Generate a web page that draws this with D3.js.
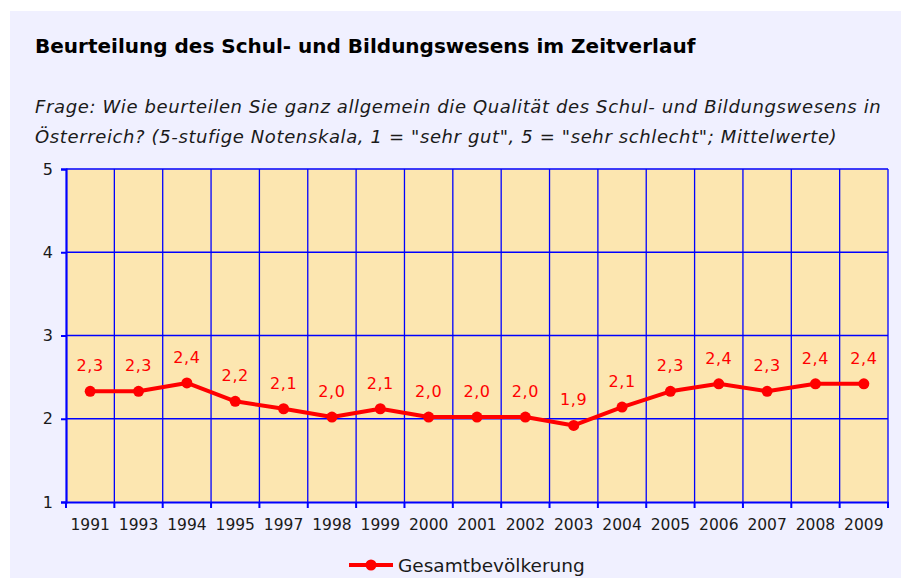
<!DOCTYPE html>
<html lang="de">
<head>
    <meta charset="UTF-8">
    <title>Beurteilung des Schul- und Bildungswesens</title>
    <style>
        body { margin: 0; background: #fff; }
        svg { display: block; font-family: "DejaVu Sans", sans-serif; }
        .title { font-size: 20px; font-weight: bold; fill: #000; }
        .sub { font-size: 18px; font-style: italic; fill: #1a1a1a; letter-spacing: 0.62px; }
        .axis path, .axis line { stroke: #0000ff; }
        .grid line { stroke: #0000ff; stroke-width: 1.3; }
        .lbl { font-size: 16px; fill: #ff0000; text-anchor: middle; letter-spacing: 0.6px; }
    </style>
</head>
<body>
<svg id="chart" width="901" height="578"></svg>
<script src="https://d3js.org/d3.v7.min.js"></script>
<script>
    const years = ["1991", "1993", "1994", "1995", "1997", "1998", "1999", "2000", "2001",
        "2002", "2003", "2004", "2005", "2006", "2007", "2008", "2009"];
    const gesamt = [2.33, 2.33, 2.43, 2.21, 2.12, 2.02, 2.12, 2.02, 2.02,
        2.02, 1.92, 2.14, 2.33, 2.42, 2.33, 2.42, 2.42];
    const yTicks = [1, 2, 3, 4, 5];
    const seriesName = "Gesamtbevölkerung";

    const margin = { top: 169, left: 66, right: 13, bottom: 76 };
    const W = 901, H = 578;
    const width = W - margin.left - margin.right,
        height = H - margin.top - margin.bottom;

    const svg = d3.select("#chart");

    // panel background
    svg.append("rect")
        .attr("x", 10).attr("y", 11)
        .attr("width", W - 10).attr("height", H - 11)
        .attr("fill", "#f0f0ff");

    svg.append("text").attr("class", "title")
        .attr("x", 35).attr("y", 53)
        .text("Beurteilung des Schul- und Bildungswesens im Zeitverlauf");

    svg.append("text").attr("class", "sub")
        .attr("x", 35).attr("y", 113)
        .text("Frage: Wie beurteilen Sie ganz allgemein die Qualität des Schul- und Bildungswesens in");
    svg.append("text").attr("class", "sub")
        .attr("x", 35).attr("y", 143)
        .text("Österreich? (5-stufige Notenskala, 1 = \"sehr gut\", 5 = \"sehr schlecht\"; Mittelwerte)");

    const x = d3.scaleBand().domain(years).range([0, width]);
    const y = d3.scaleLinear().domain([1, 5]).range([height, 0]);

    const g = svg.append("g")
        .attr("transform", `translate(${margin.left},${margin.top})`);

    g.append("rect")
        .attr("width", width).attr("height", height)
        .attr("fill", "#fce6b0");

    // gridlines
    const grid = g.append("g").attr("class", "grid");
    grid.selectAll(".hl")
        .data(yTicks.slice(1))
        .enter().append("line")
        .attr("x1", 0).attr("x2", width)
        .attr("y1", d => y(d)).attr("y2", d => y(d));
    grid.selectAll(".vl")
        .data(years.slice(1).concat(["end"]))
        .enter().append("line")
        .attr("x1", (d, i) => (i + 1) * x.step())
        .attr("x2", (d, i) => (i + 1) * x.step())
        .attr("y1", 0).attr("y2", height);

    // y axis
    g.append("g")
        .attr("class", "axis")
        .call(d3.axisLeft(y).tickValues(yTicks).tickSize(5).tickPadding(8).tickFormat(d3.format("d")))
        .attr("font-family", "DejaVu Sans").attr("font-size", 16)
        .call(a => a.select(".domain").attr("stroke-width", 2.2))
        .call(a => a.selectAll(".tick line").attr("stroke-width", 2))
        .call(a => a.selectAll("text").attr("fill", "#1a1a1a"));

    // x axis: ticks on band boundaries
    const xa = g.append("g")
        .attr("class", "axis")
        .attr("transform", `translate(0,${height})`)
        .call(d3.axisBottom(x).tickSize(0).tickPadding(17))
        .attr("font-family", "DejaVu Sans").attr("font-size", 15.5)
        .call(a => a.select(".domain").attr("stroke-width", 2.2))
        .call(a => a.selectAll("text").attr("fill", "#1a1a1a"));
    xa.selectAll(".bnd")
        .data(d3.range(years.length + 1))
        .enter().append("line")
        .attr("x1", i => i * x.step()).attr("x2", i => i * x.step())
        .attr("y1", 0).attr("y2", 6)
        .attr("stroke", "#0000ff").attr("stroke-width", 2);

    const cx = i => x(years[i]) + x.bandwidth() / 2;

    const line = d3.line()
        .x((d, i) => cx(i))
        .y(d => y(d));

    g.append("path")
        .datum(gesamt)
        .attr("fill", "none")
        .attr("stroke", "#ff0000")
        .attr("stroke-width", 4)
        .attr("stroke-linejoin", "round")
        .attr("d", line);

    g.selectAll(".dot")
        .data(gesamt)
        .enter().append("circle")
        .attr("cx", (d, i) => cx(i))
        .attr("cy", d => y(d))
        .attr("r", 5.5)
        .attr("fill", "#ff0000");

    const fmt = d => d3.format(".1f")(d).replace(".", ",");
    g.selectAll(".lbl")
        .data(gesamt)
        .enter().append("text")
        .attr("class", "lbl")
        .attr("x", (d, i) => cx(i))
        .attr("y", d => y(d) - 20)
        .text(fmt);

    // legend
    const lg = svg.append("g").attr("transform", "translate(349,565)");
    lg.append("line").attr("x1", 0).attr("x2", 44)
        .attr("stroke", "#ff0000").attr("stroke-width", 4);
    lg.append("circle").attr("cx", 22).attr("r", 5.5).attr("fill", "#ff0000");
    lg.append("text").attr("x", 49).attr("y", 7)
        .style("font-size", "18.5px").attr("fill", "#1a1a1a")
        .text(seriesName);
</script>
</body>
</html>
